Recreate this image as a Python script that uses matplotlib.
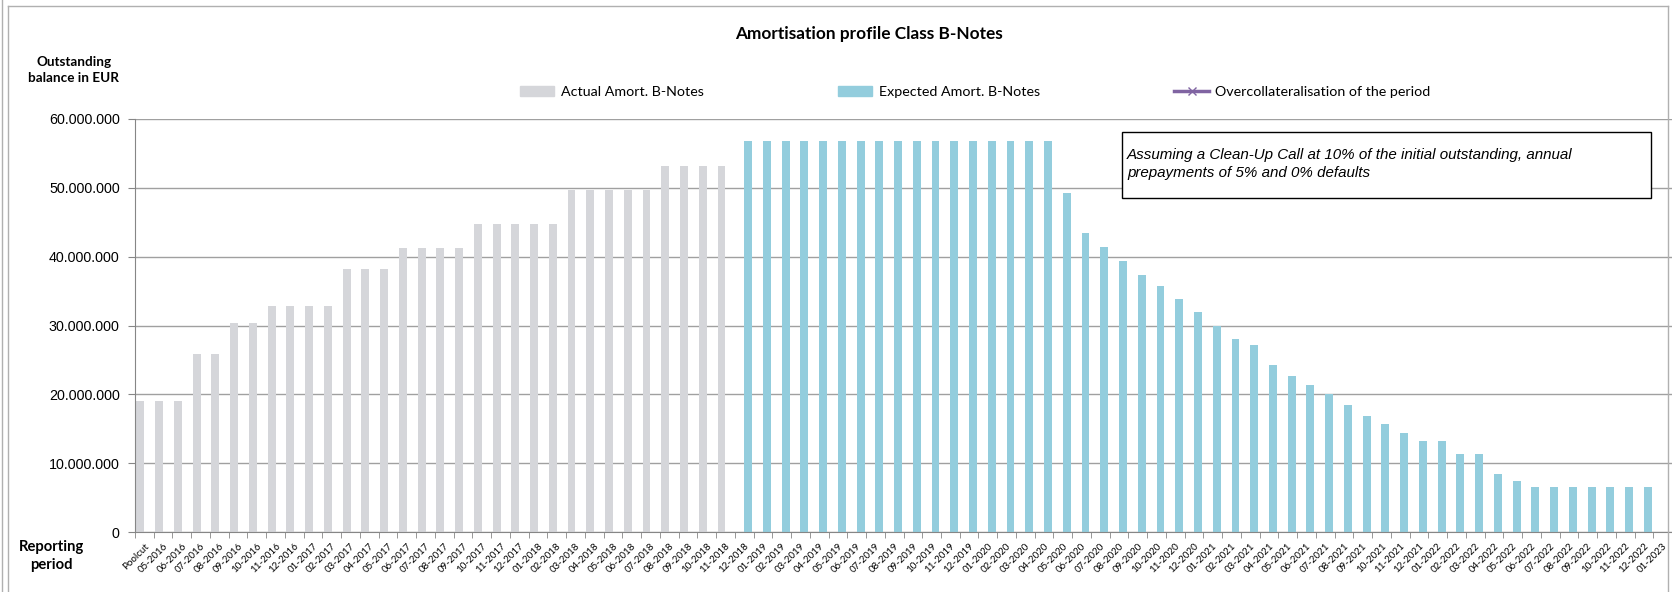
import numpy as np
import matplotlib
matplotlib.use("Agg")
import matplotlib.pyplot as plt
from matplotlib.patches import Rectangle, Patch
from matplotlib.lines import Line2D
from matplotlib.ticker import FuncFormatter

plt.rcParams['font.family'] = ['Liberation Sans', 'DejaVu Sans']
CAL = ['Lato', 'Liberation Sans', 'DejaVu Sans']

# reporting periods (x categories)
periods = [
    "Poolcut", "05-2016", "06-2016", "07-2016", "08-2016", "09-2016", "10-2016", "11-2016", "12-2016",
    "01-2017", "02-2017", "03-2017", "04-2017", "05-2017", "06-2017", "07-2017", "08-2017", "09-2017",
    "10-2017", "11-2017", "12-2017",
    "01-2018", "02-2018", "03-2018", "04-2018", "05-2018", "06-2018", "07-2018", "08-2018", "09-2018",
    "10-2018", "11-2018", "12-2018",
    "01-2019", "02-2019", "03-2019", "04-2019", "05-2019", "06-2019", "07-2019", "08-2019", "09-2019",
    "10-2019", "11-2019", "12-2019",
    "01-2020", "02-2020", "03-2020", "04-2020", "05-2020", "06-2020", "07-2020", "08-2020", "09-2020",
    "10-2020", "11-2020", "12-2020",
    "01-2021", "02-2021", "03-2021", "04-2021", "05-2021", "06-2021", "07-2021", "08-2021", "09-2021",
    "10-2021", "11-2021", "12-2021",
    "01-2022", "02-2022", "03-2022", "04-2022", "05-2022", "06-2022", "07-2022", "08-2022", "09-2022",
    "10-2022", "11-2022", "12-2022",
    "01-2023",
]

# actual amortisation, Poolcut .. 11-2018 (EUR)
actual = [
    19.0e6, 19.0e6, 19.0e6, 25.8e6, 25.8e6, 30.4e6, 30.4e6, 32.8e6, 32.8e6, 32.8e6, 32.8e6,
    38.2e6, 38.2e6, 38.2e6, 41.3e6, 41.3e6, 41.3e6, 41.3e6, 44.7e6, 44.7e6, 44.7e6, 44.7e6,
    44.7e6, 49.7e6, 49.7e6, 49.7e6, 49.7e6, 49.7e6, 53.2e6, 53.2e6, 53.2e6, 53.2e6,
]

# expected amortisation, 12-2018 .. 12-2022 (EUR)
expected = [
    56.8e6, 56.8e6, 56.8e6, 56.8e6, 56.8e6, 56.8e6, 56.8e6, 56.8e6, 56.8e6, 56.8e6, 56.8e6,
    56.8e6, 56.8e6, 56.8e6, 56.8e6, 56.8e6, 56.8e6,
    49.2e6, 43.4e6, 41.4e6, 39.3e6, 37.4e6, 35.7e6, 33.9e6, 32.0e6,
    29.9e6, 28.1e6, 27.1e6, 24.3e6, 22.7e6, 21.3e6, 20.0e6, 18.5e6, 16.9e6, 15.7e6, 14.4e6,
    13.2e6, 13.2e6, 11.3e6, 11.3e6, 8.4e6, 7.4e6, 6.6e6, 6.6e6, 6.6e6, 6.6e6, 6.6e6, 6.6e6, 6.6e6,
]

# overcollateralisation series (no visible points)
overcoll = []

W, H = 1672, 592
fig = plt.figure(figsize=(W / 100, H / 100), dpi=100)


def fx(px):
    return px / W


def fy(py):
    return 1 - py / H


ax = fig.add_axes([fx(135), fy(532), fx(W) - fx(135), fy(119) - fy(532)])

bw = 0.42
xa = np.arange(len(actual))
xe = np.arange(len(expected)) + len(actual)
ax.bar(xa - bw / 2, actual, width=bw, color='#d5d6da', zorder=2)
ax.bar(xe + bw / 2, expected, width=bw, color='#93cddd', zorder=2)
ax.plot(np.arange(len(overcoll)), overcoll, color='#8064a2', marker='x', lw=2)

ax.set_xlim(-0.5, 81.43)
ax.set_ylim(0, 60e6)
ax.set_yticks(np.arange(0, 60e6 + 1, 10e6))
ax.yaxis.set_major_formatter(FuncFormatter(lambda v, p: f"{v:,.0f}".replace(",", ".")))
ax.grid(axis='y', color='#a0a0a0', lw=1, zorder=0)
ax.set_axisbelow(True)
for s in ['top', 'right']:
    ax.spines[s].set_visible(False)
for s in ['left', 'bottom']:
    ax.spines[s].set_color('#868686')

ax.set_xticks(np.arange(len(periods)))
ax.set_xticklabels(periods, rotation=45, ha='right', rotation_mode='anchor', fontsize=7,
                   family=CAL)
ax.tick_params(axis='x', which='major', length=0, pad=7)
ax.set_xticks(np.arange(-0.5, len(periods), 1), minor=True)
ax.tick_params(axis='x', which='minor', length=4, color='#868686')
ax.tick_params(axis='y', length=5, color='#868686', labelsize=10.3, pad=6)

# legend
handles = [
    Patch(color='#d5d6da'),
    Patch(color='#93cddd'),
    Line2D([], [], color='#8064a2', marker='x', lw=2.5, markersize=6),
]
labels = ['Actual Amort. B-Notes', 'Expected Amort. B-Notes', 'Overcollateralisation of the period']
fig.legend(handles, labels, loc='center left', bbox_to_anchor=(fx(507), fy(92)), ncol=3,
           frameon=False, prop={'family': CAL, 'size': 10.3}, handlelength=2.4, handleheight=0.7,
           columnspacing=9.4, handletextpad=0.45)

fig.text(fx(869), fy(34), 'Amortisation profile Class B-Notes', ha='center', va='center',
         fontsize=12.4, fontweight='bold', family=CAL)
fig.text(fx(74), fy(70), 'Outstanding\nbalance in EUR', ha='center', va='center',
         fontsize=9.7, fontweight='bold', linespacing=1.4, family=CAL)
fig.text(fx(51), fy(556), 'Reporting\nperiod', ha='center', va='center',
         fontsize=10.6, fontweight='bold', linespacing=1.3, family=CAL)

# note box
fig.patches.append(Rectangle((fx(1122), fy(198)), fx(1651) - fx(1122), fy(132) - fy(198),
                             transform=fig.transFigure, facecolor='white', edgecolor='black',
                             lw=1, zorder=5))
fig.text(fx(1127), fy(164), 'Assuming a Clean-Up Call at 10% of the initial outstanding, annual\n'
         'prepayments of 5% and 0% defaults', ha='left', va='center', fontsize=10.9,
         style='italic', zorder=6, linespacing=1.3)

# chart frame
fig.add_artist(Line2D([fx(2), fx(2)], [0, 1], color='#b0b0b0', lw=1, transform=fig.transFigure))
fig.add_artist(Line2D([fx(8), fx(8)], [0, fy(6)], color='#b0b0b0', lw=1, transform=fig.transFigure))
fig.add_artist(Line2D([fx(8), fx(1668)], [fy(6), fy(6)], color='#b0b0b0', lw=1, transform=fig.transFigure))
fig.add_artist(Line2D([fx(1668), fx(1668)], [0, fy(6)], color='#b0b0b0', lw=1, transform=fig.transFigure))

fig.savefig('out.png', dpi=100)
